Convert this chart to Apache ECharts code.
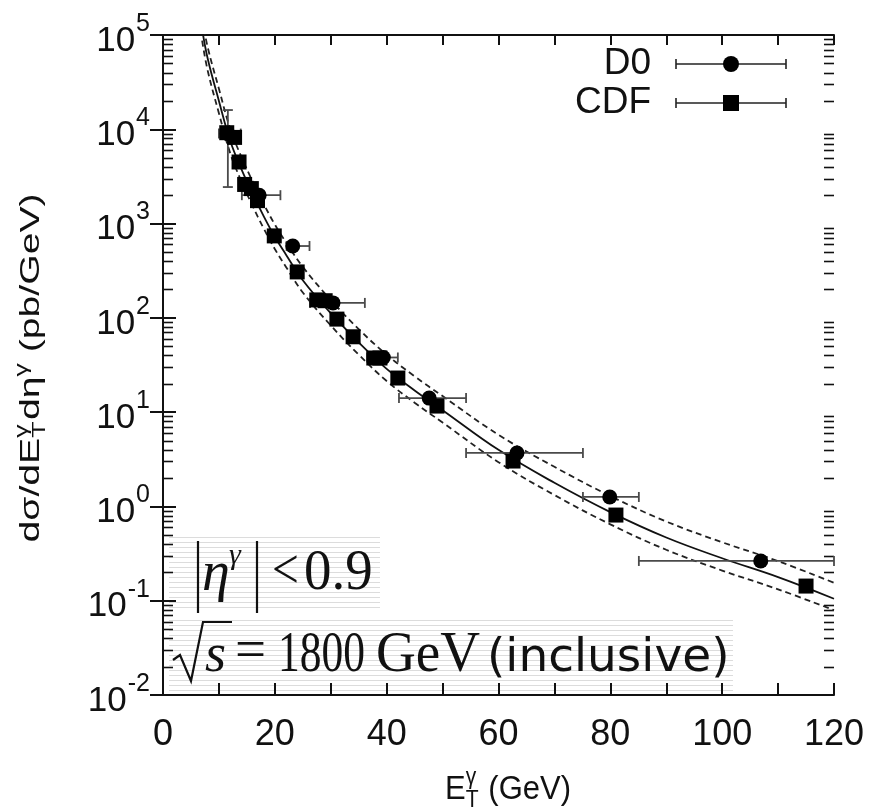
<!DOCTYPE html>
<html>
<head>
<meta charset="utf-8">
<script src="https://cdn.jsdelivr.net/npm/echarts@6/dist/echarts.min.js"></script>
<style>
  html, body { margin: 0; padding: 0; background: #fff; }
  #chart { width: 875px; height: 811px; }
</style>
</head>
<body>
<div id="chart"></div>
<script>
// Isolated-photon cross section, |eta| < 0.9, sqrt(s) = 1800 GeV

// Tick labels
const xTickLabels = ['0', '20', '40', '60', '80', '100', '120'];
const yTickExponents = ['-2', '-1', '0', '1', '2', '3', '4', '5'];

// D0 measurements (E_T in GeV, cross section in pb/GeV) with bin edges and errors
const d0Et      = [11.6, 17.2, 23.2, 30.4, 39.4, 47.6, 63.3, 79.9, 106.9];
const d0Val     = [9000, 2000, 578, 144, 38, 14.1, 3.69, 1.26, 0.264];
const d0EtLow   = [10.0, 14.1, 22.1, 26.3, 36.5, 42.2, 54.2, 75.1, 85.1];
const d0EtHigh  = [13.9, 21.0, 26.2, 36.1, 42.0, 54.2, 75.1, 85.1, 120];
const d0ValLow  = [2440, 1800, 530, 132, 35, 12.9, 3.35, 1.13, 0.235];
const d0ValHigh = [16000, 2200, 630, 156, 41, 15.3, 4.05, 1.39, 0.293];

// CDF measurements
const cdfEt  = [11.4, 12.8, 13.6, 14.6, 15.8, 16.9, 19.9, 24.0, 27.5, 29.0, 31.1, 34.0, 37.7, 38.8, 42.0, 49.0, 62.6, 81.0, 115.0];
const cdfVal = [9200, 8200, 4500, 2600, 2350, 1750, 740, 307, 155, 152, 97, 63, 37.5, 37.5, 23, 11.6, 3.03, 0.81, 0.143];

// NLO prediction: central scale and scale-variation band
const theoryEt      = [7, 8, 10, 12, 14, 16, 18, 20, 22, 25, 30, 35, 40, 45, 50, 60, 70, 80, 90, 100, 110, 120];
const theoryCentral = [115000, 56000, 20000, 7600, 3800, 2090, 1200, 724, 468, 251, 112, 55, 28.8, 17.0, 10.5, 3.98, 1.78, 0.87, 0.468, 0.282, 0.178, 0.105];
const theoryUpper   = [148000, 74000, 26900, 10200, 5130, 2820, 1620, 977, 631, 347, 155, 75.9, 40.7, 24.0, 14.8, 5.75, 2.63, 1.29, 0.692, 0.417, 0.263, 0.155];
const theoryLower   = [87100, 41700, 14800, 5620, 2820, 1550, 891, 537, 347, 186, 83.2, 40.7, 21.4, 12.6, 7.76, 2.95, 1.32, 0.646, 0.347, 0.209, 0.132, 0.0794];

const X0 = 163, X1 = 834, Y0 = 35, Y1 = 695;
const SANS = 'Liberation Sans';
const SERIF = 'Liberation Serif';
const INK = '#111';

const zip = (...cols) => cols[0].map((_, i) => cols.map(c => c[i]));

// text measuring for hand-laid-out titles
const mctx = document.createElement('canvas').getContext('2d');
function textWidth(str, font) { mctx.font = font; return mctx.measureText(str).width; }

// lay out pieces left-to-right; stacked pieces put a superscript over a subscript
function layoutPieces(pieces, family, size) {
  const items = [];
  let x = 0;
  pieces.forEach(p => {
    if (p.stack) {
      const fs = size * 0.68;
      const f = fs + 'px "' + family + '"';
      const w = Math.max(textWidth(p.sup, f), textWidth(p.sub, f));
      items.push({ text: p.sup, x: x, dy: -size * 0.36, font: f });
      items.push({ text: p.sub, x: x, dy: size * 0.30, font: f });
      x += w + size * 0.04;
    } else {
      const fs = p.sup ? size * 0.68 : size;
      const f = fs + 'px "' + family + '"';
      items.push({ text: p.text, x: x, dy: p.sup ? -size * 0.38 : 0, font: f });
      x += textWidth(p.text, f);
    }
  });
  return items.map(it => ({
    type: 'text', x: it.x - x / 2, y: it.dy,
    style: { text: it.text, font: it.font, fill: INK, align: 'left', verticalAlign: 'middle' }
  }));
}

// striped backdrop behind the kinematic annotations
function stripedBox(x, y, w, h) {
  const kids = [{ type: 'rect', shape: { x: x, y: y, width: w, height: h }, style: { fill: '#fff' } }];
  for (let yy = y + 2; yy < y + h; yy += 5) {
    kids.push({ type: 'line', shape: { x1: x, y1: yy + 0.5, x2: x + w, y2: yy + 0.5 }, style: { stroke: '#dcdcdc', lineWidth: 1 } });
  }
  return kids;
}

// text placed by its baseline (converted to a middle anchor)
function baselineText(str, x, baseline, size, family, opts) {
  const o = opts || {};
  return {
    type: 'text', x: x, y: baseline - 0.34 * size, scaleX: o.scaleX || 1, scaleY: o.scaleY || 1,
    originX: 0, originY: 0,
    style: { text: str, font: (o.italic ? 'italic ' : '') + size + 'px "' + family + '"', fill: INK, align: 'left', verticalAlign: 'middle' }
  };
}

const minorLogTicks = [];
for (let e = -2; e < 5; e++) for (let m = 2; m <= 9; m++) minorLogTicks.push(m * Math.pow(10, e));

const chart = echarts.init(document.getElementById('chart'));

const axisLineStyle = { color: INK, width: 2 };

const option = {
  animation: false,
  backgroundColor: '#fff',
  grid: { left: X0, top: Y0, width: X1 - X0, height: Y1 - Y0, show: false, containLabel: false },
  xAxis: [
    {
      type: 'value', min: 0, max: 120, interval: 20, position: 'bottom',
      axisLine: { show: true, lineStyle: axisLineStyle },
      axisTick: { show: true, inside: true, length: 12, lineStyle: { color: INK, width: 2 } },
      minorTick: { show: true, splitNumber: 2, length: 12, lineStyle: { color: INK, width: 2 } },
      splitLine: { show: false },
      axisLabel: {
        margin: 22, fontSize: 36, fontFamily: SANS, color: INK,
        formatter: v => xTickLabels[Math.round(v / 20)]
      }
    },
    {
      type: 'value', min: 0, max: 120, interval: 20, position: 'top',
      axisLine: { show: true, lineStyle: axisLineStyle },
      axisTick: { show: true, inside: true, length: 10, lineStyle: { color: INK, width: 2 } },
      minorTick: { show: true, splitNumber: 2, length: 10, lineStyle: { color: INK, width: 2 } },
      splitLine: { show: false }, axisLabel: { show: false }
    }
  ],
  yAxis: [
    {
      type: 'log', logBase: 10, min: 0.01, max: 100000, splitNumber: 7, position: 'left',
      axisLine: { show: true, lineStyle: axisLineStyle },
      axisTick: { show: true, inside: true, length: 13, lineStyle: { color: INK, width: 2 } },
      splitLine: { show: false },
      axisLabel: {
        margin: 13, color: INK,
        formatter: v => '{b|10}{e|' + yTickExponents[Math.round(Math.log10(v)) + 2] + '}',
        rich: {
          b: { fontSize: 35, fontFamily: SANS, color: INK, verticalAlign: 'bottom' },
          e: { fontSize: 25, fontFamily: SANS, color: INK, verticalAlign: 'bottom', padding: [0, 0, 22, 1] }
        }
      }
    },
    {
      type: 'log', logBase: 10, min: 0.01, max: 100000, splitNumber: 7, position: 'right',
      axisLine: { show: true, lineStyle: axisLineStyle },
      axisTick: { show: true, inside: true, length: 13, lineStyle: { color: INK, width: 2 } },
      splitLine: { show: false }, axisLabel: { show: false }
    }
  ],
  series: [
    {
      // minor decade ticks on both vertical edges
      type: 'custom', xAxisIndex: 0, yAxisIndex: 0, silent: true, z: 1,
      data: minorLogTicks.map(v => [0, v]),
      renderItem: (params, api) => {
        const p = api.coord([0, api.value(1)]);
        const y = Math.round(p[1]) + 0.5;
        const st = { stroke: INK, lineWidth: 1.6 };
        return { type: 'group', children: [
          { type: 'line', shape: { x1: X0, y1: y, x2: X0 + 10, y2: y }, style: st },
          { type: 'line', shape: { x1: X1 - 10, y1: y, x2: X1, y2: y }, style: st }
        ] };
      }
    },
    {
      type: 'line', name: 'NLO upper', data: zip(theoryEt, theoryUpper), smooth: 0.4, showSymbol: false, silent: true, z: 2,
      lineStyle: { color: '#222', width: 1.8, type: [6, 4] }
    },
    {
      type: 'line', name: 'NLO', data: zip(theoryEt, theoryCentral), smooth: 0.4, showSymbol: false, silent: true, z: 2,
      lineStyle: { color: '#111', width: 1.8 }
    },
    {
      type: 'line', name: 'NLO lower', data: zip(theoryEt, theoryLower), smooth: 0.4, showSymbol: false, silent: true, z: 2,
      lineStyle: { color: '#222', width: 1.8, type: [6, 4] }
    },
    {
      // D0 error bars: horizontal = bin width, vertical = uncertainty
      type: 'custom', name: 'D0 errors', silent: true, z: 3,
      data: zip(d0Et, d0Val, d0EtLow, d0EtHigh, d0ValLow, d0ValHigh),
      encode: { x: 0, y: 1 },
      renderItem: (params, api) => {
        const c = api.coord([api.value(0), api.value(1)]);
        const l = api.coord([api.value(2), api.value(1)]);
        const h = api.coord([api.value(3), api.value(1)]);
        const lo = api.coord([api.value(0), api.value(4)]);
        const hi = api.coord([api.value(0), api.value(5)]);
        const cap = 5;
        const st = { stroke: '#4a4a4a', lineWidth: 1.8 };
        return { type: 'group', children: [
          { type: 'line', shape: { x1: l[0], y1: c[1], x2: h[0], y2: c[1] }, style: st },
          { type: 'line', shape: { x1: l[0], y1: c[1] - cap, x2: l[0], y2: c[1] + cap }, style: st },
          { type: 'line', shape: { x1: h[0], y1: c[1] - cap, x2: h[0], y2: c[1] + cap }, style: st },
          { type: 'line', shape: { x1: c[0], y1: lo[1], x2: c[0], y2: hi[1] }, style: st },
          { type: 'line', shape: { x1: c[0] - cap, y1: lo[1], x2: c[0] + cap, y2: lo[1] }, style: st },
          { type: 'line', shape: { x1: c[0] - cap, y1: hi[1], x2: c[0] + cap, y2: hi[1] }, style: st }
        ] };
      }
    },
    {
      type: 'scatter', name: 'D0', data: zip(d0Et, d0Val), symbol: 'circle', symbolSize: 15, z: 4,
      itemStyle: { color: '#000', opacity: 1 }
    },
    {
      type: 'scatter', name: 'CDF', data: zip(cdfEt, cdfVal), symbol: 'rect', symbolSize: 15, z: 4,
      itemStyle: { color: '#000', opacity: 1 }
    }
  ],
  graphic: []
};

// y-axis title, rotated
const yTitle = layoutPieces([
  { text: 'dσ/dE' }, { stack: true, sup: 'γ', sub: 'T' }, { text: 'dη' }, { text: 'γ', sup: true }, { text: ' (pb/GeV)' }
], SANS, 27);
option.graphic.push({ type: 'group', x: 32, y: 368, rotation: Math.PI / 2, scaleX: 1.45, children: yTitle });

// x-axis title
const xTitle = layoutPieces([
  { text: 'E' }, { stack: true, sup: 'γ', sub: 'T' }, { text: ' (GeV)' }
], SANS, 31);
option.graphic.push({ type: 'group', x: 508, y: 790, scaleY: 1.1, children: xTitle });

// legend
const legendFont = '37px "' + SANS + '"';
const legendRows = [
  { label: 'D0', y: 64, symbol: 'circle' },
  { label: 'CDF', y: 103, symbol: 'rect' }
];
legendRows.forEach(r => {
  const st = { stroke: '#222', lineWidth: 1.6 };
  option.graphic.push(
    { type: 'text', x: 651, y: r.y, style: { text: r.label, font: legendFont, fill: INK, align: 'right', verticalAlign: 'middle' } },
    { type: 'line', shape: { x1: 676, y1: r.y, x2: 786, y2: r.y }, style: st },
    { type: 'line', shape: { x1: 676, y1: r.y - 5, x2: 676, y2: r.y + 5 }, style: st },
    { type: 'line', shape: { x1: 786, y1: r.y - 5, x2: 786, y2: r.y + 5 }, style: st },
    r.symbol === 'circle'
      ? { type: 'circle', shape: { cx: 731, cy: r.y, r: 8 }, style: { fill: '#000' } }
      : { type: 'rect', shape: { x: 723, y: r.y - 8, width: 16, height: 16 }, style: { fill: '#000' } }
  );
});

// kinematic annotations
const eqKids = [];
stripedBox(169, 535, 211, 76).forEach(k => eqKids.push(k));
stripedBox(169, 618, 564, 75).forEach(k => eqKids.push(k));
const bar = { stroke: INK, lineWidth: 2.2 };
eqKids.push(
  { type: 'line', shape: { x1: 198, y1: 541, x2: 198, y2: 613 }, style: bar },
  baselineText('η', 202, 594, 56, SERIF, { italic: true }),
  baselineText('γ', 229, 566, 30, SERIF, { italic: true }),
  { type: 'line', shape: { x1: 257, y1: 541, x2: 257, y2: 613 }, style: bar },
  baselineText('<', 272, 592, 56, SERIF, { scaleX: 0.85 }),
  baselineText('0.9', 304, 593, 56, SERIF, { scaleX: 0.98 }),
  // square-root sign over s
  { type: 'polyline', shape: { points: [[173, 660], [180, 655], [191, 681], [203, 622], [232, 622]] }, style: { stroke: INK, lineWidth: 2.2, fill: null } },
  baselineText('s', 205, 675, 54, SERIF, { italic: true }),
  baselineText('=', 235, 672, 58, SERIF, { scaleX: 0.95 }),
  baselineText('1800', 278, 675, 58, SERIF, { scaleX: 0.75 }),
  baselineText('GeV', 376, 675, 58, SERIF, { scaleX: 0.95 }),
  baselineText('(inclusive)', 487, 675, 47, 'DejaVu Sans')
);
option.graphic.push({ type: 'group', z: 10, children: eqKids });

chart.setOption(option);
</script>
</body>
</html>
